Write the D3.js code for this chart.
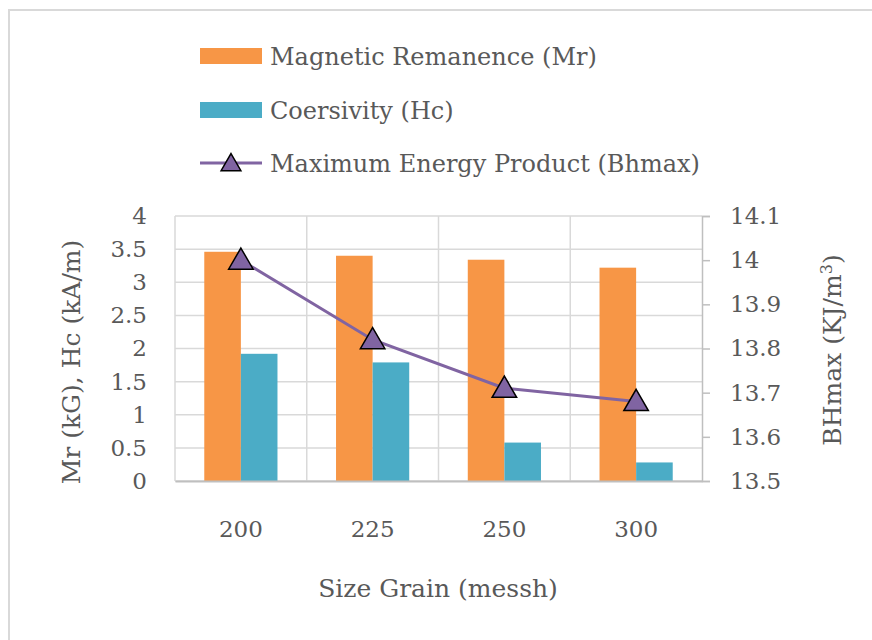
<!DOCTYPE html>
<html>
<head>
<meta charset="utf-8">
<script src="https://cdn.jsdelivr.net/npm/d3@7"></script>
<style>
  body { margin: 0; background: #fff; }
  svg text { font-family: "DejaVu Serif", serif; fill: #595959; }
</style>
</head>
<body>
<div id="chart"></div>
<script>
const categories = ["200", "225", "250", "300"];
const mrValues = [3.46, 3.40, 3.34, 3.22];
const hcValues = [1.92, 1.79, 0.58, 0.28];
const bhValues = [14.0, 13.82, 13.71, 13.68];
const leftTicks = [0, 0.5, 1, 1.5, 2, 2.5, 3, 3.5, 4];
const rightTicks = [13.5, 13.6, 13.7, 13.8, 13.9, 14.0, 14.1];
const seriesNames = ["Magnetic Remanence (Mr)", "Coersivity (Hc)", "Maximum Energy Product (Bhmax)"];

function drawChart() {
  const width = 872;
  const height = 640;
  const plot = { left: 175, right: 702, top: 216, bottom: 481 };
  const colors = { mr: "#F79646", hc: "#4BACC6", bh: "#8064A2" };
  const gridColor = "#d9d9d9";

  const svg = d3.select("#chart")
    .append("svg")
    .attr("width", width)
    .attr("height", height);

  // outer chart frame (only top and left edges show)
  svg.append("rect")
    .attr("x", 9).attr("y", 10)
    .attr("width", 900).attr("height", 700)
    .attr("fill", "none")
    .attr("stroke", "#d9d9d9")
    .attr("stroke-width", 2);

  const x0 = d3.scaleBand().domain(categories).range([plot.left, plot.right]);
  const x1 = d3.scaleBand().domain(["mr", "hc"])
    .range([0, x0.bandwidth()])
    .paddingInner(0)
    .paddingOuter(0.8);
  const yLeft = d3.scaleLinear().domain([0, 4]).range([plot.bottom, plot.top]);
  const yRight = d3.scaleLinear().domain([13.5, 14.1]).range([plot.bottom, plot.top]);

  // grid
  svg.append("g").selectAll("line")
    .data(leftTicks)
    .join("line")
    .attr("x1", plot.left).attr("x2", plot.right)
    .attr("y1", d => yLeft(d)).attr("y2", d => yLeft(d))
    .attr("stroke", gridColor).attr("stroke-width", 1.5);

  svg.append("g").selectAll("line")
    .data(categories)
    .join("line")
    .attr("x1", d => x0(d)).attr("x2", d => x0(d))
    .attr("y1", plot.top).attr("y2", plot.bottom)
    .attr("stroke", gridColor).attr("stroke-width", 1.5);

  // bars
  const rows = categories.map((c, i) => ({ cat: c, mr: mrValues[i], hc: hcValues[i] }));
  const groups = svg.append("g").selectAll("g")
    .data(rows)
    .join("g")
    .attr("transform", d => `translate(${x0(d.cat)},0)`);

  groups.selectAll("rect")
    .data(d => ["mr", "hc"].map(k => ({ key: k, value: d[k] })))
    .join("rect")
    .attr("x", d => x1(d.key))
    .attr("width", x1.bandwidth())
    .attr("y", d => yLeft(d.value))
    .attr("height", d => yLeft(0) - yLeft(d.value))
    .attr("fill", d => colors[d.key]);

  // left axis labels
  const leftAxis = svg.append("g")
    .attr("transform", `translate(${plot.left},0)`)
    .call(d3.axisLeft(yLeft).tickValues(leftTicks).tickSize(0).tickPadding(28).tickFormat(d3.format("")));
  leftAxis.select(".domain").remove();

  // right axis
  const rightAxis = svg.append("g")
    .attr("transform", `translate(${plot.right},0)`)
    .call(d3.axisRight(yRight).tickValues(rightTicks).tickSize(8).tickPadding(20).tickFormat(d => d3.format("")(+d.toFixed(1))));
  rightAxis.selectAll("path, line").attr("stroke", "#bfbfbf").attr("stroke-width", 1.5);

  // bottom axis
  const bottomAxis = svg.append("g")
    .attr("transform", `translate(0,${plot.bottom})`)
    .call(d3.axisBottom(x0).tickSize(0).tickPadding(40));
  bottomAxis.select(".domain").attr("stroke", "#bfbfbf").attr("stroke-width", 2);

  svg.selectAll(".tick text")
    .style("font-size", "23px")
    .attr("fill", "#595959")
    .style("font-family", "DejaVu Serif");

  // line + triangle markers
  const points = categories.map((c, i) => ({ cat: c, value: bhValues[i] }));
  const line = d3.line()
    .x(d => x0(d.cat) + x0.bandwidth() / 2)
    .y(d => yRight(d.value));

  svg.append("path")
    .datum(points)
    .attr("d", line)
    .attr("fill", "none")
    .attr("stroke", colors.bh)
    .attr("stroke-width", 3);

  const triangle = d3.symbol().type(d3.symbolTriangle).size(260);
  svg.append("g").selectAll("path")
    .data(points)
    .join("path")
    .attr("d", triangle)
    .attr("transform", d => `translate(${x0(d.cat) + x0.bandwidth() / 2},${yRight(d.value) + 2})`)
    .attr("fill", colors.bh)
    .attr("stroke", "#000")
    .attr("stroke-width", 1.5);

  // axis titles
  svg.append("text")
    .attr("x", 438).attr("y", 597)
    .attr("text-anchor", "middle")
    .style("font-size", "25px")
    .text("Size Grain (messh)");

  svg.append("text")
    .attr("transform", "translate(80,362) rotate(-90)")
    .attr("text-anchor", "middle")
    .style("font-size", "25px")
    .text("Mr (kG), Hc (kA/m)");

  const rightTitle = svg.append("text")
    .attr("transform", "translate(841,350) rotate(-90)")
    .attr("text-anchor", "middle")
    .style("font-size", "25px");
  rightTitle.append("tspan").text("BHmax (KJ/m");
  rightTitle.append("tspan").attr("dy", -9).style("font-size", "16px").text("3");
  rightTitle.append("tspan").attr("dy", 9).text(")");

  // legend
  const legendRows = [56, 110, 163];
  const legend = svg.append("g");
  legend.append("rect")
    .attr("x", 200).attr("y", legendRows[0] - 8).attr("width", 62).attr("height", 16)
    .attr("fill", colors.mr);
  legend.append("rect")
    .attr("x", 200).attr("y", legendRows[1] - 8).attr("width", 62).attr("height", 16)
    .attr("fill", colors.hc);
  legend.append("line")
    .attr("x1", 200).attr("x2", 262)
    .attr("y1", legendRows[2]).attr("y2", legendRows[2])
    .attr("stroke", colors.bh).attr("stroke-width", 3);
  legend.append("path")
    .attr("d", d3.symbol().type(d3.symbolTriangle).size(170))
    .attr("transform", `translate(231,${legendRows[2] + 2})`)
    .attr("fill", colors.bh)
    .attr("stroke", "#000")
    .attr("stroke-width", 1.5);

  legend.selectAll("text")
    .data(seriesNames)
    .join("text")
    .attr("x", 270)
    .attr("y", (d, i) => legendRows[i] + 9)
    .style("font-size", "24px")
    .text(d => d);
}

drawChart();
</script>
</body>
</html>
